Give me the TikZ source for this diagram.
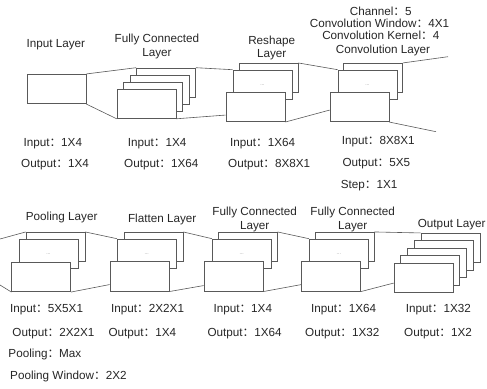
\documentclass[tikz,border=0pt]{standalone}
\usepackage{fontspec}
\setmainfont{Liberation Sans}
\newfontfamily\cjk{Noto Sans CJK SC}
\newcommand{\zhc}{\smash{\cjk ：}}
\tikzset{
  lyr/.style={draw=black!65,fill=white,line width=.6pt,minimum width=59pt,minimum height=29.5pt,inner sep=0pt},
  wire/.style={draw=black!65,line width=.6pt},
  lbl/.style={anchor=base west,inner sep=0pt,text=black!85},
  ttl/.style={anchor=base,inner sep=0pt,text=black!85},
  dots/.style={font=\fontsize{5}{5}\selectfont,text=black!45,inner sep=0pt}
}

\begin{document}
\begin{tikzpicture}[x=1pt,y=-1pt,font=\fontsize{11.7}{13.7}\selectfont]
\useasboundingbox (0,0) rectangle (487,388);
% upper row of layers
\node[lyr] (in) at (56.5,89) {};
\node[lyr] (fc4) at (166,82.75) {};\node[lyr] (fc3) at (159.5,89.75) {};
\node[lyr] (fc2) at (153,96.75) {};\node[lyr] (fc1) at (146.5,103.75) {};
\node[lyr] (rs3) at (268.5,78) {};\node[lyr] (rs2) at (262.5,84.75) {};
\node[lyr] (rs1) at (255.5,107) {};
\node[dots] (rsd) at (rs2) {...};
\node[lyr] (cv3) at (373,78) {};\node[lyr] (cv2) at (367.5,84.75) {};
\node[lyr] (cv1) at (359.5,107) {};
\node[dots] (cvd) at (cv2) {...};
\coordinate (cvT) at (448,56.7);\coordinate (cvB) at (436,131.7);
\draw[wire] (in.north east)--(fc4.north west);
\draw[wire] (in.south east)--(fc1.south west);
\draw[wire] (fc4.north east)--(rs2.north west);
\draw[wire] (fc1.south east)--([yshift=7pt]rs1.south west);
\draw[wire] (rs3.north east)--(cv2.north west);
\draw[wire] (rs1.south east)--([yshift=12pt]cv1.south west);
\draw[wire] (cv3.north east)--(cvT);
\draw[wire] (cv1.south east)--(cvB);
% lower row of layers
\coordinate (plT) at (0,239);\coordinate (plB) at (0,285);
\node[lyr] (pl3) at (55.5,247) {};\node[lyr] (pl2) at (48.5,253.75) {};
\node[lyr] (pl1) at (41.2,277) {};
\node[dots] (pld) at (pl2) {...};
\node[lyr] (fl3) at (153.5,247) {};\node[lyr] (fl2) at (146.8,253.75) {};
\node[lyr] (fl1) at (139.5,276.5) {};
\node[dots] (fld) at (fl2) {...};
\node[lyr] (fd3) at (247.8,247) {};\node[lyr] (fd2) at (241.8,253.75) {};
\node[lyr] (fd1) at (233.5,276.5) {};
\node[dots] (fdd) at (fd2) {...};
\node[lyr] (fe3) at (344.5,247) {};\node[lyr] (fe2) at (338.8,253.75) {};
\node[lyr] (fe1) at (331.2,276.5) {};
\node[dots] (fed) at (fe2) {...};
\node[lyr] (out5) at (450.5,248) {};\node[lyr] (out4) at (443.7,255.5) {};
\node[lyr] (out3) at (437,263) {};\node[lyr] (out2) at (430.2,270.5) {};
\node[lyr] (out1) at (423.5,278) {};
\draw[wire] (plT)--(pl3.north west);
\draw[wire] (plB)--(pl1.south west);
\draw[wire] (pl3.north east)--(fl2.north west);
\draw[wire] (pl1.south east)--([yshift=7pt]fl1.south west);
\draw[wire] (fl3.north east)--(fd2.north west);
\draw[wire] (fl1.south east)--([yshift=6pt]fd1.south west);
\draw[wire] (fd3.north east)--(fe2.north west);
\draw[wire] (fd1.south east)--([yshift=7pt]fe1.south west);
\draw[wire] (fe3.north east)--(out5.north west);
\draw[wire] (fe1.south east)--([yshift=10pt]out1.south west);
% titles
\node[ttl] (tin) at (55.8,47.5) {Input Layer};
\node[ttl] (tfca) at (157,42.7) {Fully Connected};
\node[ttl] (tfcb) at (157,56.5) {Layer};
\node[ttl] (trsa) at (271.7,44) {Reshape};
\node[ttl] (trsb) at (271.7,57.5) {Layer};
\node[ttl] (tcva) at (380.8,15.2) {Channel\zhc 5};
\node[ttl] (tcvb) at (379.5,27.3) {Convolution Window\zhc 4X1};
\node[ttl] (tcvc) at (380.8,39.2) {Convolution Kernel\zhc 4};
\node[ttl] (tcvd) at (383,53) {Convolution Layer};
\node[ttl] (tpl) at (61.7,220.7) {Pooling Layer};
\node[ttl] (tfl) at (162.2,222.7) {Flatten Layer};
\node[ttl] (tfda) at (254.7,215.7) {Fully Connected};
\node[ttl] (tfdb) at (254.7,229) {Layer};
\node[ttl] (tfea) at (352.7,215.7) {Fully Connected};
\node[ttl] (tfeb) at (352.7,229) {Layer};
\node[ttl] (tout) at (451.7,227.7) {Output Layer};
% sizes
\node[lbl] (iin) at (23.3,146.5) {Input\zhc 1X4};
\node[lbl] (oin) at (21,167.5) {Output\zhc 1X4};
\node[lbl] (ifc) at (127.7,146.5) {Input\zhc 1X4};
\node[lbl] (ofc) at (124,167.5) {Output\zhc 1X64};
\node[lbl] (irs) at (230,146.5) {Input\zhc 1X64};
\node[lbl] (ors) at (228,167.5) {Output\zhc 8X8X1};
\node[lbl] (icv) at (341.7,144) {Input\zhc 8X8X1};
\node[lbl] (ocv) at (342.3,166.7) {Output\zhc 5X5};
\node[lbl] (scv) at (340.7,188.3) {Step\zhc 1X1};
\node[lbl] (ipl) at (10,312.7) {Input\zhc 5X5X1};
\node[lbl] (opl) at (12.3,336) {Output\zhc 2X2X1};
\node[lbl] (mpl) at (8.3,357.7) {Pooling\zhc Max};
\node[lbl] (wpl) at (10,379) {Pooling Window\zhc 2X2};
\node[lbl] (ifl) at (111,312.7) {Input\zhc 2X2X1};
\node[lbl] (ofl) at (108.3,336) {Output\zhc 1X4};
\node[lbl] (ifd) at (213.3,312.7) {Input\zhc 1X4};
\node[lbl] (ofd) at (207.3,336) {Output\zhc 1X64};
\node[lbl] (ife) at (311,312.7) {Input\zhc 1X64};
\node[lbl] (ofe) at (305,336.5) {Output\zhc 1X32};
\node[lbl] (iout) at (405.7,312.7) {Input\zhc 1X32};
\node[lbl] (oout) at (404,336.5) {Output\zhc 1X2};
\end{tikzpicture}
\end{document}
